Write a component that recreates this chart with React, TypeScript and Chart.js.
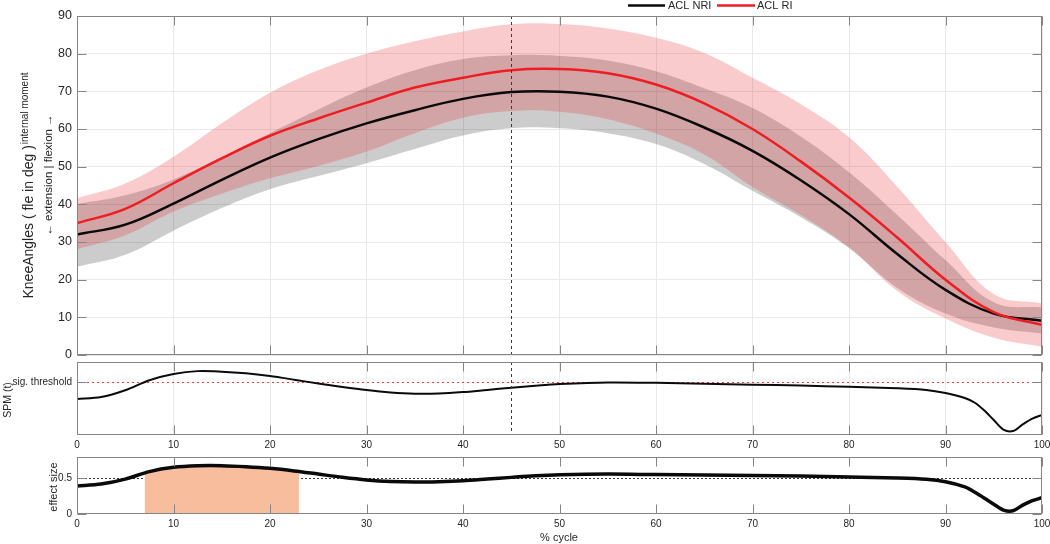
import React, { useEffect, useRef } from 'react';
import { Chart, registerables } from 'chart.js';

Chart.register(...registerables);

// ---------------- data ----------------
const CYCLE = [0, 5, 10, 15, 20, 25, 30, 35, 40, 45, 50, 55, 60, 65, 70, 75, 80, 85, 90, 95, 100];
const NRI_MEAN = [32, 34.6, 40.2, 46.5, 52.4, 57.3, 61.5, 65, 68, 69.8, 69.9, 68.6, 65.4, 60.4, 54.2, 46.4, 37.4, 26.8, 17.3, 11, 9.1];
const NRI_UPPER = [40.1, 42.4, 46.6, 52.6, 58.9, 65.2, 71, 75.6, 78.6, 79.6, 79.4, 78.2, 75.3, 70.8, 65.6, 58, 48.5, 37.2, 25.2, 14, 12.6];
const NRI_LOWER = [23.4, 26.6, 33, 39, 44, 47.5, 50.9, 54.7, 58.3, 60.2, 60.2, 58.9, 56, 50.7, 43.6, 36.6, 28.4, 17.8, 11, 7.3, 5.7];
const RI_MEAN = [35, 38.8, 45.6, 52.2, 58.2, 62.8, 67, 71, 73.6, 75.6, 75.9, 74.8, 71.8, 66.8, 60, 51.4, 41.8, 31.2, 20, 11.4, 8];
const RI_UPPER = [41.6, 45.5, 52.6, 61.5, 69.6, 75.6, 80, 83.3, 85.9, 87.8, 87.9, 86.7, 84.2, 80.2, 73.6, 66.6, 57.8, 44.7, 30, 16.2, 13.7];
const RI_LOWER = [28.1, 31.8, 38.1, 42.8, 46.9, 50.2, 54, 58.9, 63, 64.8, 64.6, 62.6, 58.8, 53.2, 44.6, 37.2, 28.6, 17, 9.7, 4.6, 2.2];

const SPM_CYCLE = [0, 2.5, 5, 7.5, 10, 12.5, 15, 17.5, 20, 22.5, 25, 27.5, 30, 32.5, 35, 37.5, 40, 42.5, 45, 47.5, 50, 55, 60, 65, 70, 75, 80, 85, 88, 90, 92, 93, 94, 95, 96, 97, 98, 99, 100];
const SPM_T = [1.97, 2.08, 2.45, 3.0, 3.34, 3.5, 3.47, 3.38, 3.23, 3.03, 2.82, 2.63, 2.46, 2.33, 2.26, 2.27, 2.35, 2.47, 2.59, 2.7, 2.79, 2.88, 2.86, 2.81, 2.76, 2.71, 2.64, 2.56, 2.47, 2.3, 2.03, 1.78, 1.35, 0.82, 0.3, 0.22, 0.58, 0.9, 1.1];
const SPM_THRESHOLD = 2.9;

const EFFECT_SIZE = [0.393, 0.42, 0.49, 0.595, 0.655, 0.677, 0.678, 0.664, 0.641, 0.605, 0.56, 0.515, 0.478, 0.456, 0.449, 0.454, 0.467, 0.49, 0.514, 0.536, 0.55, 0.56, 0.553, 0.547, 0.539, 0.532, 0.52, 0.505, 0.487, 0.452, 0.38, 0.31, 0.225, 0.138, 0.055, 0.045, 0.124, 0.187, 0.229];
const SIG_START = 7;
const SIG_END = 23;
const SIG_EDGE_ES = [0.58, 0.595];
const ES_REFS = [0.5, 0.8];

const EVENT_X = 45;
const X_TICKS = [0, 10, 20, 30, 40, 50, 60, 70, 80, 90, 100];
const KNEE_TICKS = [0, 10, 20, 30, 40, 50, 60, 70, 80, 90];
const ES_TICKS = [0, 0.5];

// ---------------- style ----------------
const FONT = '"Liberation Sans", Arial, Helvetica, sans-serif';
const TEXT = '#262626';
const GRID = '#e9e9e9';
const BOX = '#858585';
const BLACK = '#0a0a0a';
const RED = '#ee1d23';
const PINK = 'rgba(235,30,35,0.23)';
const GRAYBAND = 'rgba(0,0,0,0.2)';
const ORANGE = '#f8bd9d';
const TICK_LEN = 9;

const pts = (xs: number[], ys: number[]) => xs.map((x, i) => ({ x, y: ys[i] }));

type RefLine = { axis: 'x' | 'y'; value: number; color: string; dash: number[]; width: number };

function drawRefs(chart: any, refs?: RefLine[]) {
  if (!refs) return;
  const { ctx, chartArea: a, scales } = chart;
  ctx.save();
  refs.forEach((r) => {
    ctx.beginPath();
    ctx.strokeStyle = r.color;
    ctx.lineWidth = r.width;
    ctx.setLineDash(r.dash);
    if (r.axis === 'x') {
      const px = Math.round(scales.x.getPixelForValue(r.value)) + 0.5;
      ctx.moveTo(px, a.top);
      ctx.lineTo(px, a.bottom);
    } else {
      const py = Math.round(scales.y.getPixelForValue(r.value)) + 0.5;
      ctx.moveTo(a.left, py);
      ctx.lineTo(a.right, py);
    }
    ctx.stroke();
  });
  ctx.restore();
}

function drawBox(chart: any, yTicks: number[]) {
  const { ctx, chartArea: a, scales } = chart;
  const l = Math.round(a.left) + 0.5;
  const r = Math.round(a.right) - 0.5;
  const t = Math.round(a.top) + 0.5;
  const b = Math.round(a.bottom) - 0.5;
  ctx.save();
  ctx.strokeStyle = BOX;
  ctx.lineWidth = 1;
  ctx.setLineDash([]);
  ctx.strokeRect(l, t, r - l, b - t);
  ctx.beginPath();
  X_TICKS.forEach((v) => {
    const px = Math.round(scales.x.getPixelForValue(v)) + 0.5;
    ctx.moveTo(px, t);
    ctx.lineTo(px, t + TICK_LEN);
    ctx.moveTo(px, b);
    ctx.lineTo(px, b - TICK_LEN);
  });
  yTicks.forEach((v) => {
    const py = Math.round(scales.y.getPixelForValue(v)) + 0.5;
    ctx.moveTo(l, py);
    ctx.lineTo(l + TICK_LEN, py);
    ctx.moveTo(r, py);
    ctx.lineTo(r - TICK_LEN, py);
  });
  ctx.stroke();
  ctx.restore();
}

function rotText(ctx: CanvasRenderingContext2D, text: string, x: number, y: number, size: number) {
  ctx.save();
  ctx.translate(x, y);
  ctx.rotate(-Math.PI / 2);
  ctx.font = `${size}px ${FONT}`;
  ctx.fillStyle = TEXT;
  ctx.textAlign = 'center';
  ctx.textBaseline = 'alphabetic';
  ctx.fillText(text, 0, 0);
  ctx.restore();
}

function framePlugin(cfg: { yTicks: number[]; before?: RefLine[]; after?: RefLine[]; texts?: (ctx: CanvasRenderingContext2D) => void }) {
  return {
    id: 'frame',
    beforeDatasetsDraw(chart: any) {
      drawRefs(chart, cfg.before);
    },
    afterDatasetsDraw(chart: any) {
      drawRefs(chart, cfg.after);
      drawBox(chart, cfg.yTicks);
    },
    afterDraw(chart: any) {
      if (cfg.texts) cfg.texts(chart.ctx);
    },
  };
}

function xScale(showLabels: boolean, height: number, grid: boolean) {
  return {
    type: 'linear',
    min: 0,
    max: 100,
    afterBuildTicks: (s: any) => {
      s.ticks = X_TICKS.map((v) => ({ value: v }));
    },
    ticks: { display: showLabels, font: { family: FONT, size: 10 }, color: TEXT, padding: 4, maxRotation: 0 },
    grid: { display: grid, color: GRID, drawTicks: false },
    border: { display: false },
    afterFit: (s: any) => {
      s.height = height;
      s.paddingLeft = 0;
      s.paddingRight = 0;
    },
  };
}

function yScale(min: number, max: number, ticks: number[], fontSize: number, grid: boolean, labelFn?: (v: number) => string) {
  return {
    type: 'linear',
    min,
    max,
    afterBuildTicks: (s: any) => {
      s.ticks = ticks.map((v) => ({ value: v }));
    },
    ticks: {
      font: { family: FONT, size: fontSize },
      color: TEXT,
      padding: 5,
      callback: (v: any) => (labelFn ? labelFn(Number(v)) : String(v)),
    },
    grid: { display: grid, color: GRID, drawTicks: false },
    border: { display: false },
    afterFit: (s: any) => {
      s.width = 77;
      s.paddingTop = 0;
      s.paddingBottom = 0;
    },
  };
}

const baseOptions = (padTop: number, tension: number) => ({
  responsive: false,
  animation: false,
  events: [],
  layout: { padding: { left: 0, right: 8, top: padTop, bottom: 0 } },
  plugins: { legend: { display: false }, tooltip: { enabled: false } },
  elements: { point: { radius: 0 }, line: { tension } },
});

export default function App() {
  const topRef = useRef<HTMLCanvasElement>(null);
  const midRef = useRef<HTMLCanvasElement>(null);
  const botRef = useRef<HTMLCanvasElement>(null);

  useEffect(() => {
    const charts: Chart[] = [];

    // ---- top: knee angles ----
    charts.push(
      new Chart(topRef.current as HTMLCanvasElement, {
        type: 'line',
        data: {
          datasets: [
            { label: 'ACL RI', data: pts(CYCLE, RI_MEAN), borderColor: RED, borderWidth: 2.5, fill: false, order: 0 },
            { label: 'ACL NRI', data: pts(CYCLE, NRI_MEAN), borderColor: BLACK, borderWidth: 2.5, fill: false, order: 1 },
            { label: 'RI upper', data: pts(CYCLE, RI_UPPER), borderColor: 'transparent', borderWidth: 0, backgroundColor: PINK, fill: 3, order: 2 },
            { label: 'RI lower', data: pts(CYCLE, RI_LOWER), borderColor: 'transparent', borderWidth: 0, fill: false, order: 2 },
            { label: 'NRI upper', data: pts(CYCLE, NRI_UPPER), borderColor: 'transparent', borderWidth: 0, backgroundColor: GRAYBAND, fill: 5, order: 3 },
            { label: 'NRI lower', data: pts(CYCLE, NRI_LOWER), borderColor: 'transparent', borderWidth: 0, fill: false, order: 3 },
          ] as any,
        },
        options: {
          ...(baseOptions(16, 0.4) as any),
          scales: {
            x: xScale(false, 9, true),
            y: yScale(0, 90, KNEE_TICKS, 12.5, true),
          } as any,
        },
        plugins: [
          framePlugin({
            yTicks: KNEE_TICKS,
            after: [{ axis: 'x', value: EVENT_X, color: '#3a3a3a', dash: [3, 3], width: 1 }],
            texts: (ctx) => {
              const main = 'KneeAngles ( fle in deg )';
              const sup = 'internal moment';
              ctx.save();
              ctx.font = `14px ${FONT}`;
              const w1 = ctx.measureText(main).width;
              ctx.font = `10px ${FONT}`;
              const w2 = ctx.measureText(sup).width;
              const start = 186 + (w1 + w2) / 2;
              ctx.translate(33, start);
              ctx.rotate(-Math.PI / 2);
              ctx.fillStyle = TEXT;
              ctx.textAlign = 'left';
              ctx.textBaseline = 'alphabetic';
              ctx.font = `14px ${FONT}`;
              ctx.fillText(main, 0, 0);
              ctx.font = `10px ${FONT}`;
              ctx.fillText(sup, w1 + 1, -5.5);
              ctx.restore();
              rotText(ctx, '\u2190 extension | flexion \u2192', 52, 175, 11.5);
              // legend
              ctx.save();
              ctx.lineWidth = 2.5;
              ctx.strokeStyle = BLACK;
              ctx.beginPath();
              ctx.moveTo(628, 5.5);
              ctx.lineTo(665, 5.5);
              ctx.stroke();
              ctx.strokeStyle = RED;
              ctx.beginPath();
              ctx.moveTo(717, 5.5);
              ctx.lineTo(755, 5.5);
              ctx.stroke();
              ctx.font = `11px ${FONT}`;
              ctx.fillStyle = TEXT;
              ctx.textAlign = 'left';
              ctx.textBaseline = 'middle';
              ctx.fillText('ACL NRI', 668, 6);
              ctx.fillText('ACL RI', 757, 6);
              ctx.restore();
            },
          }) as any,
        ],
      })
    );

    // ---- middle: SPM ----
    charts.push(
      new Chart(midRef.current as HTMLCanvasElement, {
        type: 'line',
        data: {
          datasets: [
            { label: 'SPM (t)', data: pts(SPM_CYCLE, SPM_T), borderColor: BLACK, borderWidth: 2, fill: false },
          ] as any,
        },
        options: {
          ...(baseOptions(6, 0.3) as any),
          scales: {
            x: xScale(true, 21, true),
            y: yScale(0, 4, [SPM_THRESHOLD], 10, false, () => 'sig. threshold'),
          } as any,
        },
        plugins: [
          framePlugin({
            yTicks: [SPM_THRESHOLD],
            before: [{ axis: 'y', value: SPM_THRESHOLD, color: '#e8453c', dash: [2, 3], width: 1.2 }],
            after: [{ axis: 'x', value: EVENT_X, color: '#3a3a3a', dash: [3, 3], width: 1 }],
            texts: (ctx) => rotText(ctx, 'SPM (t)', 11, 44, 10.5),
          }) as any,
        ],
      })
    );

    // ---- bottom: effect size ----
    const sigX = [SIG_START, ...SPM_CYCLE.filter((x) => x > SIG_START && x < SIG_END), SIG_END];
    const sigY = [SIG_EDGE_ES[0], ...EFFECT_SIZE.filter((_, i) => SPM_CYCLE[i] > SIG_START && SPM_CYCLE[i] < SIG_END), SIG_EDGE_ES[1]];
    charts.push(
      new Chart(botRef.current as HTMLCanvasElement, {
        type: 'line',
        data: {
          datasets: [
            { label: 'effect size', data: pts(SPM_CYCLE, EFFECT_SIZE), borderColor: BLACK, borderWidth: 3.5, fill: false, order: 0 },
            { label: 'significant', data: pts(sigX, sigY), borderColor: 'transparent', borderWidth: 0, backgroundColor: ORANGE, fill: 'origin', order: 1 },
          ] as any,
        },
        options: {
          ...(baseOptions(7, 0.3) as any),
          scales: {
            x: xScale(true, 30, false),
            y: yScale(0, 0.8, ES_TICKS, 10, false, (v) => String(v)),
          } as any,
        },
        plugins: [
          framePlugin({
            yTicks: ES_TICKS,
            before: ES_REFS.map((v) => ({ axis: 'y' as const, value: v, color: '#3a3a3a', dash: [2, 2], width: 1 })),
            texts: (ctx) => {
              rotText(ctx, 'effect size', 57, 37, 11);
              ctx.save();
              ctx.font = `11px ${FONT}`;
              ctx.fillStyle = TEXT;
              ctx.textAlign = 'center';
              ctx.textBaseline = 'middle';
              ctx.fillText('% cycle', 559, 87.5);
              ctx.restore();
            },
          }) as any,
        ],
      })
    );

    return () => charts.forEach((c) => c.destroy());
  }, []);

  const abs = (top: number, height: number): React.CSSProperties => ({ position: 'absolute', left: 0, top, width: 1050, height });

  return (
    <div style={{ position: 'absolute', left: 0, top: 0, width: 1050, height: 544, background: '#fff', overflow: 'hidden' }}>
      <canvas ref={botRef} width={1050} height={94} style={abs(450, 94)} />
      <canvas ref={midRef} width={1050} height={100} style={abs(356, 100)} />
      <canvas ref={topRef} width={1050} height={364} style={abs(0, 364)} />
    </div>
  );
}
